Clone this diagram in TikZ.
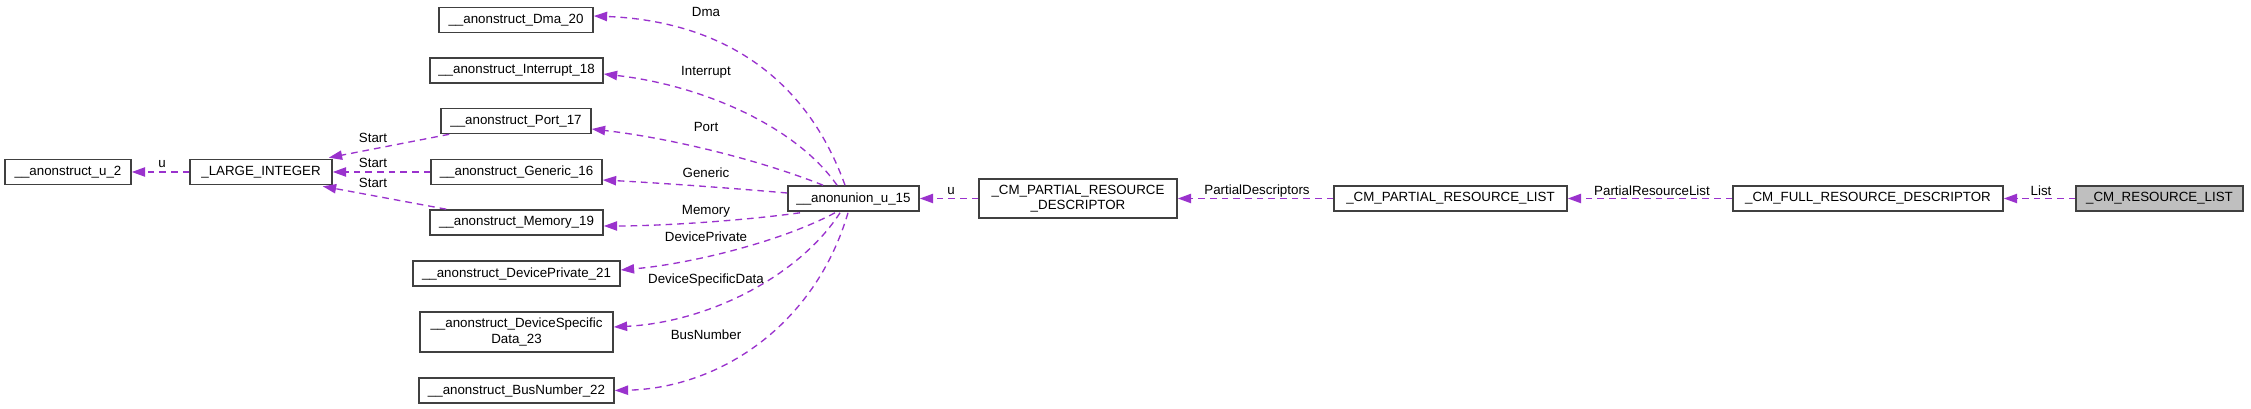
\documentclass[tikz,border=0pt]{standalone}
\usepackage{fontspec}
\setmainfont{Liberation Sans}
\usetikzlibrary{arrows.meta,calc}
\definecolor{refcol}{HTML}{9A32CD}
\definecolor{boxline}{HTML}{404040}
\definecolor{hlfill}{HTML}{BFBFBF}
\begin{document}
\begin{tikzpicture}[x=0.75pt, y=-0.75pt, line width=1pt,
  cls/.style={draw=boxline, line width=1.2pt, fill=white, inner sep=0pt, minimum height=18.75pt,
    align=center, font=\fontsize{10}{11.5}\selectfont},
  bw/.style={minimum width=#1*0.75pt},
  hl/.style={cls, fill=hlfill},
  ref/.style={draw=refcol, dash pattern=on 5pt off 3.75pt,
    -{Triangle[length=10pt, width=7pt, fill=refcol]}},
  lbl/.style={inner sep=0pt, font=\fontsize{10}{11.5}\selectfont}]
  \useasboundingbox (0,0) rectangle (2251,409);
  % classes
  \node[cls, bw=126] (u2) at (68,172) {\_\_anonstruct\_u\_2};
  \node[cls, bw=142] (lint) at (261,172) {\_LARGE\_INTEGER};
  \node[cls, bw=154] (dma20) at (516,20) {\_\_anonstruct\_Dma\_20};
  \node[cls, bw=173] (int18) at (516.5,70.5) {\_\_anonstruct\_Interrupt\_18};
  \node[cls, bw=150] (port17) at (516,121) {\_\_anonstruct\_Port\_17};
  \node[cls, bw=171] (gen16) at (516.5,172) {\_\_anonstruct\_Generic\_16};
  \node[cls, bw=173] (mem19) at (516.5,222.5) {\_\_anonstruct\_Memory\_19};
  \node[cls, bw=207] (dp21) at (516.5,273.5) {\_\_anonstruct\_DevicePrivate\_21};
  \node[cls, bw=193, minimum height=30pt] (dsd23) at (516.5,332) {\_\_anonstruct\_DeviceSpecific\\Data\_23};
  \node[cls, bw=195] (bus22) at (516.5,390.5) {\_\_anonstruct\_BusNumber\_22};
  \node[cls, bw=131] (u15) at (853.5,198.5) {\_\_anonunion\_u\_15};
  \node[cls, bw=198, minimum height=29.25pt] (cmprd) at (1078,198.5) {\_CM\_PARTIAL\_RESOURCE\\\_DESCRIPTOR};
  \node[cls, bw=233] (cmprl) at (1450.5,198.5) {\_CM\_PARTIAL\_RESOURCE\_LIST};
  \node[cls, bw=270] (cmfrd) at (1868,198.5) {\_CM\_FULL\_RESOURCE\_DESCRIPTOR};
  \node[hl, bw=167] (cmrl) at (2159.5,198.5) {\_CM\_RESOURCE\_LIST};
  % members, main chain
  \draw[ref] (cmrl) -- (cmfrd);
  \node[lbl] (lList) at (2041,191) {List};
  \draw[ref] (cmfrd) -- (cmprl);
  \node[lbl] (lPrl) at (1652,191) {PartialResourceList};
  \draw[ref] (cmprl) -- (cmprd);
  \node[lbl] (lPd) at (1257,191) {PartialDescriptors};
  \draw[ref] (cmprd) -- (u15);
  \node[lbl] (lU) at (951,191) {u};
  % union members
  \draw[ref] ($(u15.north)+(-8.5,0)$) .. controls (800,60) and (700,20) .. ($(dma20.east)+(0,-4)$);
  \node[lbl] (lDma) at (706,12) {Dma};
  \draw[ref] ($(u15.north)+(-16.5,0)$) .. controls (795,125) and (700,85) .. ($(int18.east)+(0,3.5)$);
  \node[lbl] (lInt) at (706,72) {Interrupt};
  \draw[ref] ($(u15.north)+(-30.5,0)$) .. controls (760,160) and (670,138) .. ($(port17.east)+(0,8)$);
  \node[lbl] (lPort) at (706,127) {Port};
  \draw[ref] ($(u15.west)+(0,-5.5)$) .. controls (730,188) and (660,183) .. ($(gen16.east)+(0,8)$);
  \node[lbl] (lGen) at (706,173) {Generic};
  \draw[ref] ($(u15.south)+(-53.5,1)$) .. controls (740,221) and (660,226) .. ($(mem19.east)+(0,3.5)$);
  \node[lbl] (lMem) at (706,211) {Memory};
  \draw[ref] ($(u15.south)+(-18.5,1)$) .. controls (780,242) and (690,264) .. ($(dp21.east)+(0,-3.5)$);
  \node[lbl] (lDp) at (706,237) {DevicePrivate};
  \draw[ref] ($(u15.south)+(-13.5,1)$) .. controls (800,275) and (710,322) .. ($(dsd23.east)+(0,-5)$);
  \node[lbl] (lDsd) at (706,280) {DeviceSpecificData};
  \draw[ref] ($(u15.south)+(-5.5,1)$) .. controls (815,325) and (720,388) .. (bus22.east);
  \node[lbl] (lBus) at (706,335) {BusNumber};
  % large integer
  \draw[ref] ($(port17.south west)+(9,0)$) -- ($(lint.north east)+(-4,-1)$);
  \node[lbl] (lS1) at (373,138) {Start};
  \draw[ref] (gen16) -- (lint);
  \node[lbl] (lS2) at (373,163) {Start};
  \draw[ref] ($(mem19.north west)+(17,0)$) -- ($(lint.south east)+(-10,1)$);
  \node[lbl] (lS3) at (373,183) {Start};
  \draw[ref] (lint) -- (u2);
  \node[lbl] (lU2) at (162,164) {u};
\end{tikzpicture}
\end{document}
